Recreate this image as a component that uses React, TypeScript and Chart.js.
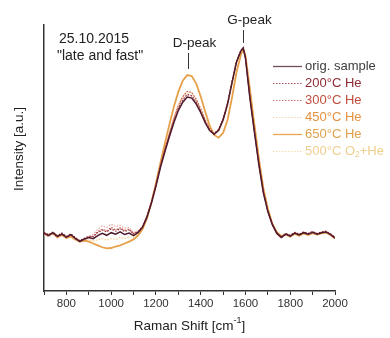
import React, { useEffect, useRef } from "react";
import { Chart, registerables } from "chart.js";

Chart.register(...registerables);

const FONT = "'Liberation Sans', Arial, Helvetica, sans-serif";

// Raman shift [cm^-1]
const ramanShift = [
  700, 720, 740, 760, 780, 800, 820, 840, 860, 880,
  900, 920, 940, 960, 980, 1000, 1020, 1040, 1060, 1080,
  1100, 1120, 1140, 1160, 1180, 1200, 1220, 1240, 1260, 1280,
  1300, 1320, 1340, 1360, 1380, 1400, 1420, 1440, 1460, 1480,
  1500, 1520, 1540, 1560, 1580, 1590, 1600, 1620, 1640, 1660,
  1680, 1700, 1720, 1740, 1760, 1780, 1800, 1820, 1840, 1860,
  1880, 1900, 1920, 1940, 1960, 1980, 2000,
];

const origSample = [
  0.010, -0.004, 0.012, -0.008, 0.006, -0.012, 0.002, -0.018, -0.034, -0.022,
  -0.014, -0.020, -0.004, 0.008, -0.002, 0.012, 0.004, 0.016, 0.002, 0.010,
  -0.004, 0.012, 0.040, 0.095, 0.170, 0.260, 0.360, 0.445, 0.525, 0.600,
  0.665, 0.710, 0.738, 0.732, 0.700, 0.655, 0.600, 0.558, 0.538, 0.560,
  0.615, 0.700, 0.815, 0.925, 0.985, 1.000, 0.945, 0.730, 0.550, 0.375,
  0.225, 0.125, 0.055, 0.008, -0.014, 0.004, -0.006, 0.010, 0.000, 0.012,
  0.004, 0.014, 0.004, 0.012, 0.016, 0.002, -0.016,
];

const he200 = [
  0.014, 0.000, 0.016, -0.004, 0.010, -0.008, 0.006, -0.014, -0.030, -0.018,
  -0.008, -0.010, 0.012, 0.026, 0.016, 0.032, 0.020, 0.034, 0.018, 0.026,
  0.006, 0.018, 0.046, 0.100, 0.178, 0.268, 0.368, 0.455, 0.535, 0.612,
  0.678, 0.724, 0.752, 0.745, 0.712, 0.664, 0.608, 0.562, 0.540, 0.562,
  0.618, 0.702, 0.818, 0.928, 0.988, 1.000, 0.948, 0.735, 0.555, 0.380,
  0.230, 0.128, 0.058, 0.012, -0.010, 0.008, -0.002, 0.014, 0.004, 0.016,
  0.008, 0.018, 0.008, 0.016, 0.020, 0.006, -0.012,
];

const he300 = [
  0.006, 0.004, 0.008, -0.012, 0.002, -0.014, -0.002, -0.020, -0.036, -0.026,
  -0.012, -0.006, 0.018, 0.030, 0.022, 0.040, 0.026, 0.038, 0.024, 0.030,
  0.008, 0.016, 0.044, 0.098, 0.176, 0.266, 0.370, 0.458, 0.542, 0.622,
  0.692, 0.740, 0.768, 0.762, 0.726, 0.676, 0.616, 0.568, 0.544, 0.566,
  0.622, 0.706, 0.820, 0.930, 0.988, 0.998, 0.950, 0.740, 0.560, 0.385,
  0.234, 0.130, 0.060, 0.010, -0.012, 0.006, -0.004, 0.012, 0.002, 0.014,
  0.006, 0.016, 0.006, 0.014, 0.018, 0.004, -0.014,
];

const he450 = [
  0.000, -0.010, 0.004, -0.016, -0.002, -0.018, -0.006, -0.024, -0.040, -0.028,
  -0.010, 0.004, 0.030, 0.048, 0.040, 0.058, 0.044, 0.052, 0.036, 0.040,
  0.014, 0.020, 0.044, 0.096, 0.172, 0.262, 0.362, 0.450, 0.530, 0.606,
  0.672, 0.718, 0.746, 0.740, 0.706, 0.660, 0.604, 0.560, 0.540, 0.562,
  0.618, 0.702, 0.816, 0.926, 0.984, 0.998, 0.946, 0.734, 0.552, 0.378,
  0.228, 0.126, 0.056, 0.008, -0.016, 0.000, -0.010, 0.006, -0.004, 0.008,
  0.000, 0.010, 0.000, 0.008, 0.012, -0.002, -0.020,
];

const he650 = [
  0.004, 0.000, 0.008, -0.012, 0.000, -0.016, -0.008, -0.024, -0.036, -0.030,
  -0.036, -0.046, -0.056, -0.066, -0.072, -0.070, -0.062, -0.056, -0.046, -0.036,
  -0.024, -0.004, 0.030, 0.090, 0.175, 0.275, 0.385, 0.490, 0.590, 0.685,
  0.765, 0.825, 0.855, 0.850, 0.810, 0.740, 0.660, 0.585, 0.535, 0.520,
  0.545, 0.615, 0.735, 0.870, 0.965, 0.995, 0.960, 0.780, 0.590, 0.410,
  0.250, 0.140, 0.060, 0.014, -0.006, 0.002, -0.010, 0.006, -0.004, 0.008,
  0.000, 0.010, 0.002, 0.008, 0.012, 0.000, -0.020,
];

const o2he500 = [
  0.008, -0.006, 0.010, -0.010, 0.004, -0.014, -0.002, -0.022, -0.038, -0.030,
  -0.026, -0.032, -0.026, -0.020, -0.028, -0.020, -0.024, -0.014, -0.020, -0.010,
  -0.014, 0.004, 0.036, 0.094, 0.172, 0.266, 0.370, 0.462, 0.548, 0.628,
  0.696, 0.742, 0.766, 0.760, 0.724, 0.672, 0.612, 0.562, 0.536, 0.552,
  0.604, 0.690, 0.808, 0.922, 0.984, 1.000, 0.952, 0.748, 0.566, 0.390,
  0.236, 0.130, 0.058, 0.010, -0.010, 0.004, -0.006, 0.010, 0.000, 0.010,
  0.002, 0.012, 0.002, 0.010, 0.014, 0.000, -0.018,
];

const seriesLabels = ["orig. sample", "200°C He", "300°C He", "450°C He", "650°C He", "500°C O₂+He"];
const seriesValues = [origSample, he200, he300, he450, he650, o2he500];

const peakLabels = ["D-peak", "G-peak"];
const peakShifts = [1345, 1590];

const titleLines = ["25.10.2015", "\"late and fast\""];

// styles (not data)
const seriesStyle = [
  { line: "#4e1a2c", text: "#3d3d3d", legendLine: "#6e5057", dash: [] as number[], width: 1.5, order: 0 },
  { line: "#8e2a38", text: "#8e2a35", legendLine: "#a4505a", dash: [1.5, 1.5], width: 1.2, order: 1 },
  { line: "#c4503f", text: "#c04e3c", legendLine: "#cf7a6c", dash: [1.5, 1.5], width: 1.2, order: 2 },
  { line: "rgba(232,150,140,0.8)", text: "#e5913f", legendLine: "#f3d2b6", dash: [1.5, 1.5], width: 1.2, order: 4 },
  { line: "#e6a04a", text: "#e0a04b", legendLine: "#e6a552", dash: [], width: 1.8, order: 3 },
  { line: "#f0cf8a", text: "#efcf8e", legendLine: "#f3dcae", dash: [1.5, 1.5], width: 1.2, order: 5 },
];

const overlayPlugin = {
  id: "overlay",
  afterDraw(chart: any) {
    const ctx = chart.ctx as CanvasRenderingContext2D;
    const xs = chart.scales.x;
    const ys = chart.scales.y;
    const area = chart.chartArea;
    ctx.save();
    ctx.fillStyle = "#222";
    ctx.textBaseline = "middle";

    // title
    ctx.font = `14px ${FONT}`;
    ctx.textAlign = "left";
    ctx.fillText(titleLines[0], 59, 39);
    ctx.fillText(titleLines[1], 57, 56);

    // peak annotations
    ctx.font = `13.5px ${FONT}`;
    ctx.textAlign = "center";
    ctx.strokeStyle = "#333";
    ctx.lineWidth = 1;
    const annTop = [0.973, 1.096];
    const annBot = [0.888, 1.027];
    peakLabels.forEach((lab, i) => {
      const px = Math.round(xs.getPixelForValue(peakShifts[i])) + 0.5;
      const yt = ys.getPixelForValue(annTop[i]);
      const yb = ys.getPixelForValue(annBot[i]);
      ctx.beginPath();
      ctx.moveTo(px, yt);
      ctx.lineTo(px, yb);
      ctx.stroke();
      ctx.fillText(lab, px + 6, yt - 10);
    });

    // legend
    ctx.textAlign = "left";
    seriesLabels.forEach((lab, i) => {
      const st = seriesStyle[i];
      const y = 66 + i * 17;
      ctx.save();
      ctx.strokeStyle = st.legendLine;
      ctx.lineWidth = st.dash.length ? 1 : 1.3;
      ctx.setLineDash(st.dash);
      ctx.beginPath();
      ctx.moveTo(273, y + 0.5);
      ctx.lineTo(302, y + 0.5);
      ctx.stroke();
      ctx.restore();
      ctx.fillStyle = st.text;
      ctx.font = `13px ${FONT}`;
      const subIdx = lab.indexOf("₂");
      if (subIdx >= 0) {
        const a = lab.slice(0, subIdx);
        const b = lab.slice(subIdx + 1);
        let x = 305;
        ctx.fillText(a, x, y);
        x += ctx.measureText(a).width;
        ctx.font = `8.5px ${FONT}`;
        ctx.fillText("2", x, y + 4);
        x += ctx.measureText("2").width;
        ctx.font = `13px ${FONT}`;
        ctx.fillText(b, x, y);
      } else {
        ctx.fillText(lab, 305, y);
      }
    });

    // x axis title with superscript
    ctx.fillStyle = "#222";
    const main1 = "Raman Shift [cm";
    const sup = "-1";
    const main2 = "]";
    ctx.font = `13.5px ${FONT}`;
    const w1 = ctx.measureText(main1).width;
    const w3 = ctx.measureText(main2).width;
    ctx.font = `9px ${FONT}`;
    const w2 = ctx.measureText(sup).width;
    const total = w1 + w2 + w3;
    const x0 = (area.left + area.right) / 2 - total / 2;
    const ty = 326;
    ctx.font = `13.5px ${FONT}`;
    ctx.fillText(main1, x0, ty);
    ctx.font = `9px ${FONT}`;
    ctx.fillText(sup, x0 + w1, ty - 5);
    ctx.font = `13.5px ${FONT}`;
    ctx.fillText(main2, x0 + w1 + w2, ty);

    // y axis title
    ctx.save();
    ctx.translate(19, 149);
    ctx.rotate(-Math.PI / 2);
    ctx.textAlign = "center";
    ctx.font = `13.5px ${FONT}`;
    ctx.fillText("Intensity [a.u.]", 0, 0);
    ctx.restore();

    ctx.restore();
  },
};

export default function App() {
  const ref = useRef<HTMLCanvasElement | null>(null);

  useEffect(() => {
    document.body.style.margin = "0";
    const canvas = ref.current;
    if (!canvas) return;
    const datasets = seriesLabels.map((lab, i) => ({
      label: lab,
      data: ramanShift.map((x, j) => ({ x, y: seriesValues[i][j] })),
      borderColor: seriesStyle[i].line,
      borderWidth: seriesStyle[i].width,
      borderDash: seriesStyle[i].dash,
      pointRadius: 0,
      tension: 0,
      fill: false,
      order: seriesStyle[i].order,
    }));
    const chart = new Chart(canvas, {
      type: "line",
      data: { datasets },
      options: {
        responsive: false,
        animation: false,
        devicePixelRatio: 1,
        layout: { padding: { top: 25, right: 55, left: 0, bottom: 0 } },
        plugins: {
          legend: { display: false },
          tooltip: { enabled: false },
          title: { display: false },
        },
        scales: {
          x: {
            type: "linear",
            min: 700,
            max: 2000,
            afterFit: (s: any) => {
              s.height = 47;
            },
            ticks: {
              stepSize: 100,
              autoSkip: false,
              maxRotation: 0,
              callback: (v: any) => (Number(v) % 200 === 0 ? String(v) : ""),
              font: { family: FONT, size: 11.5 },
              color: "#333",
              padding: 2,
            },
            grid: {
              drawOnChartArea: false,
              drawTicks: true,
              tickLength: 4,
              color: "#333",
              lineWidth: 1,
            },
            border: { display: true, color: "#333", width: 1.5 },
          },
          y: {
            min: -0.3,
            max: 1.123,
            afterFit: (s: any) => {
              s.width = 44;
            },
            ticks: { display: false },
            grid: { display: false },
            border: { display: true, color: "#333", width: 1.5 },
          },
        },
      },
      plugins: [overlayPlugin],
    });
    return () => chart.destroy();
  }, []);

  return (
    <div style={{ position: "absolute", left: 0, top: 0, width: 390, height: 338, background: "#fff" }}>
      <canvas ref={ref} width={390} height={338} />
    </div>
  );
}
